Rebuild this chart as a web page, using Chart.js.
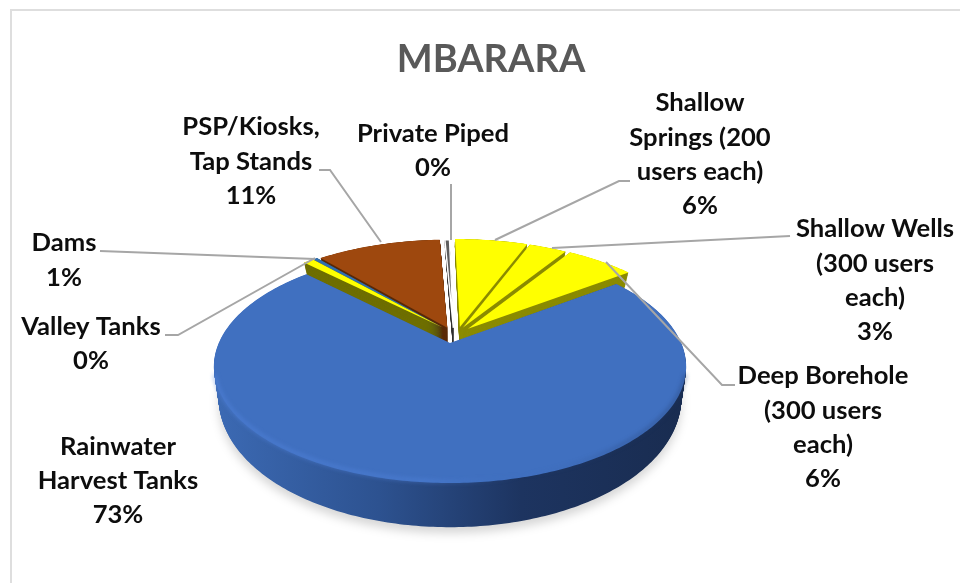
<!DOCTYPE html>
<html>
<head>
<meta charset="utf-8">
<style>
html, body { margin: 0; padding: 0; background: #fff; }
#wrap { position: relative; width: 960px; height: 583px; }
</style>
<script src="https://cdn.jsdelivr.net/npm/chart.js@4"></script>
</head>
<body>
<div id="wrap"><canvas id="myChart" width="960" height="583"></canvas></div>
<script>
const categories = ['Shallow Springs (200 users each)', 'Shallow Wells (300 users each)', 'Deep Borehole (300 users each)',
  'Rainwater Harvest Tanks', 'Dams', 'Valley Tanks', 'PSP/Kiosks, Tap Stands', 'Private Piped'];
const shareValues = [6.2, 3.2, 5.8, 72.6, 0.9, 0.4, 10.6, 0.4];

const topColors = ['#ffff00', '#ffff00', '#ffff00', '#4070c0', '#ffff00', '#2f6fb0', '#9e480e', '#5e5e5e'];
const wallColors = ['#8b8b00', '#8b8b00', '#8b8b00', '#24406f', '#6f6f00', '#1c3f66', '#5a2a08', '#333333'];

// slice pull-out, in pie radius units (x, y on the pie plane)
const pullX = [0.044, 0.058, 0.080, 0.000, -0.030, -0.030, -0.012, 0.015];
const pullY = [-0.078, -0.072, -0.062, 0.070, -0.070, -0.070, -0.070, -0.070];

// label text and where it sits: centre x, then one y per line
const labelLines = [
  ['Shallow', 'Springs (200', 'users each)'],
  ['Shallow Wells', '(300 users', 'each)'],
  ['Deep Borehole', '(300 users', 'each)'],
  ['Rainwater', 'Harvest Tanks'],
  ['Dams'],
  ['Valley Tanks'],
  ['PSP/Kiosks,', 'Tap Stands'],
  ['Private Piped']
];
const labelX = [700, 875, 823, 118, 64, 91, 251, 433];
const labelY = [
  [103, 138, 172, 206],
  [229, 264, 298, 332],
  [376, 411, 445, 479],
  [447, 481, 515],
  [243, 278],
  [327, 361],
  [127, 162, 196],
  [134, 168]
];
const leaderLines = [
  [[630, 181], [619, 181], [495, 240]],
  [[790, 236], [552, 248]],
  [[735, 385], [722, 385], [606, 262]],
  null,
  [[100, 251], [315, 259]],
  [[165, 335], [178, 335], [315, 258]],
  [[319, 170], [330, 170], [381, 242]],
  [[451, 184], [451, 240]]
];

// view of the pie: centre, radii and perspective strength
const view = { cx: 450, cy: 335.3, w: 228, h: 108.5, k: 0.2 };

function project(u, v) {
  const w = 1 - view.k * v;
  return { x: view.cx + view.w * u / w, y: view.cy + view.h * v / w, depth: 26 + 17 * v };
}

function slicePoints(arc, i) {
  const pts = [project(pullX[i], pullY[i])];
  const steps = Math.max(2, Math.ceil((arc.endAngle - arc.startAngle) / 0.015));
  for (let s = 0; s <= steps; s++) {
    const a = arc.startAngle + (arc.endAngle - arc.startAngle) * s / steps;
    pts.push(project(pullX[i] + Math.cos(a), pullY[i] + Math.sin(a)));
  }
  return pts;
}

// drop 0 is the top face, drop 1 the bottom one, which is a little narrower
function tracePoly(ctx, pts, drop) {
  ctx.beginPath();
  pts.forEach((p, n) => {
    const x = view.cx + (p.x - view.cx) * (1 - 0.02 * drop);
    const y = p.y + p.depth * drop;
    if (n === 0) ctx.moveTo(x, y); else ctx.lineTo(x, y);
  });
  ctx.closePath();
}

const tiltedPie = {
  id: 'tiltedPie',
  beforeDatasetDraw(chart) {
    const ctx = chart.ctx;
    const arcs = chart.getDatasetMeta(0).data;
    const order = arcs.map((a, i) => i).sort((p, q) => {
      const mid = a => Math.sin((a.startAngle + a.endAngle) / 2) + (a.endAngle - a.startAngle > 3 ? 3 : 0);
      return mid(arcs[p]) - mid(arcs[q]);
    });
    order.forEach(i => {
      const pts = slicePoints(arcs[i], i);
      ctx.save();
      let wall = wallColors[i];
      if (i === 3) {
        const g = ctx.createLinearGradient(213, 0, 687, 0);
        g.addColorStop(0, '#3c6ab4');
        g.addColorStop(0.35, '#2d5290');
        g.addColorStop(0.65, '#1d3460');
        g.addColorStop(1, '#192c50');
        wall = g;
        // soft shadow on the ground
        ctx.save();
        ctx.filter = 'blur(5px)';
        ctx.fillStyle = 'rgba(0,0,0,0.16)';
        ctx.translate(0, 6);
        tracePoly(ctx, pts, 1);
        ctx.fill();
        ctx.restore();
      }
      ctx.fillStyle = wall;
      for (let s = 1; s >= 0; s -= 0.02) {
        tracePoly(ctx, pts, s);
        ctx.fill();
      }
      tracePoly(ctx, pts, 0);
      ctx.fillStyle = topColors[i];
      ctx.fill();
      if (i === 7) {
        ctx.strokeStyle = '#ffffff';
        ctx.lineWidth = 1.5;
        ctx.stroke();
      }
      if (i === 3) {
        // rim highlight along the near edge, fading to the right
        const rim = ctx.createLinearGradient(213, 0, 687, 0);
        rim.addColorStop(0, 'rgba(85,135,225,0.6)');
        rim.addColorStop(0.45, 'rgba(85,135,225,0.5)');
        rim.addColorStop(0.65, 'rgba(64,112,192,0)');
        rim.addColorStop(0.85, 'rgba(30,55,100,0.3)');
        rim.addColorStop(1, 'rgba(30,55,100,0.45)');
        ctx.strokeStyle = rim;
        ctx.lineWidth = 3;
        ctx.filter = 'blur(2px)';
        ctx.beginPath();
        let started = false;
        pts.slice(1).forEach(p => {
          if (p.y < 375) return;
          if (!started) { ctx.moveTo(p.x, p.y - 1.5); started = true; } else ctx.lineTo(p.x, p.y - 1.5);
        });
        ctx.stroke();
      }
      ctx.restore();
    });
    return false;
  },
  afterDraw(chart) {
    const ctx = chart.ctx;
    ctx.save();
    // frame
    ctx.strokeStyle = '#dedede';
    ctx.lineWidth = 2;
    ctx.beginPath();
    ctx.moveTo(11, 583);
    ctx.lineTo(11, 10);
    ctx.lineTo(960, 10);
    ctx.stroke();
    // leader lines
    ctx.strokeStyle = '#a6a6a6';
    ctx.lineWidth = 2;
    leaderLines.forEach(line => {
      if (!line) return;
      ctx.beginPath();
      line.forEach((p, n) => n === 0 ? ctx.moveTo(p[0], p[1]) : ctx.lineTo(p[0], p[1]));
      ctx.stroke();
    });
    // data labels
    const total = shareValues.reduce((a, b) => a + b, 0);
    ctx.fillStyle = '#0d0d0d';
    ctx.font = 'bold 25.6px Lato';
    ctx.textAlign = 'center';
    ctx.textBaseline = 'middle';
    categories.forEach((c, i) => {
      const rows = labelLines[i].concat(Math.round(shareValues[i] / total * 100) + '%');
      rows.forEach((row, n) => ctx.fillText(row, labelX[i], labelY[i][n]));
    });
    ctx.restore();
  }
};

const myChart = new Chart(document.getElementById('myChart').getContext('2d'), {
  type: 'pie',
  data: {
    labels: categories,
    datasets: [{ data: shareValues, backgroundColor: topColors, borderWidth: 0 }]
  },
  options: {
    responsive: false,
    animation: false,
    rotation: -1,
    layout: { padding: { left: 22, top: 37 } },
    plugins: {
      legend: { display: false },
      tooltip: { enabled: false },
      title: {
        display: true,
        text: 'MBARARA',
        color: '#595959',
        font: { family: 'Lato', size: 38, weight: 'bold' },
        padding: 0
      }
    }
  },
  plugins: [tiltedPie]
});
</script>
</body>
</html>
